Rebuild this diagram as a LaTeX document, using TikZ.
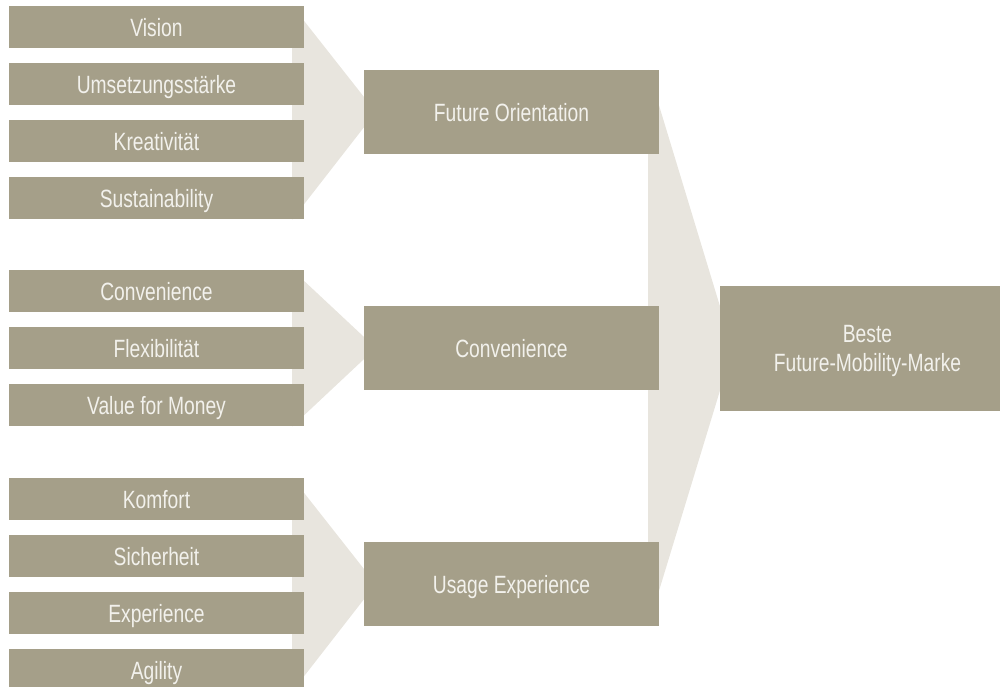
\documentclass[tikz,border=0pt]{standalone}
\usepackage{fontspec}
\setmainfont{Liberation Sans}[FakeStretch=0.77]
\usetikzlibrary{calc,positioning,backgrounds}
\definecolor{boxgray}{HTML}{A59F89}
\definecolor{funnelgray}{HTML}{E8E5DE}
\definecolor{boxtext}{HTML}{F2F1EC}

\begin{document}
\begin{tikzpicture}[x=1pt,y=-1pt,
    plain/.style={fill=boxgray,text=boxtext,minimum width=295pt,inner sep=0pt,
        font=\fontsize{25}{29}\selectfont},
    item/.style={plain,minimum height=42pt,text height=18pt,text depth=0pt},
    factor/.style={item,minimum height=84pt},
    goal/.style={plain,minimum height=125pt,align=center,text depth=0pt},
    funnel/.style={fill=funnelgray}]
\useasboundingbox (0,0) rectangle (1000,686);
\clip (0,0) rectangle (1000,686);

\node[item] (vision) at (156.5,27) {Vision};
\node[item,below=14.7pt of vision] (umsetzung) {Umsetzungsstärke};
\node[item,below=14.7pt of umsetzung] (kreativ) {Kreativität};
\node[item,below=14.7pt of kreativ] (sustain) {Sustainability};

\node[item] (conv) at (156.5,291) {Convenience};
\node[item,below=14.7pt of conv] (flex) {Flexibilität};
\node[item,below=14.7pt of flex] (value) {Value for Money};

\node[item] (komfort) at (156.5,499) {Komfort};
\node[item,below=14.7pt of komfort] (sicher) {Sicherheit};
\node[item,below=14.7pt of sicher] (experience) {Experience};
\node[item,below=14.7pt of experience] (agility) {Agility};

\node[factor] (future) at (511.5,112) {Future Orientation};
\node[factor] (convenience) at (511.5,348) {Convenience};
\node[factor] (usage) at (511.5,584) {Usage Experience};

\node[goal] (beste) at (867.5,348.5) {Beste\\Future-Mobility-Marke};

\begin{pgfonlayer}{background}
\fill[funnel] ($(vision.north east)+(-12,0)$) -- ($(future.west)+(12,0)$)
    -- ($(sustain.south east)+(-12,0)$) -- cycle;
\fill[funnel] ($(conv.north east)+(-12,0)$) -- ($(convenience.west)+(12,0)$)
    -- ($(value.south east)+(-12,0)$) -- cycle;
\fill[funnel] ($(komfort.north east)+(-12,0)$) -- ($(usage.west)+(12,0)$)
    -- ($(agility.south east)+(-12,0)$) -- cycle;
\fill[funnel] ($(future.north east)+(-11,0)$) -- ($(beste.west)+(13,0)$)
    -- ($(usage.south east)+(-11,0)$) -- cycle;
\end{pgfonlayer}
\end{tikzpicture}
\end{document}
